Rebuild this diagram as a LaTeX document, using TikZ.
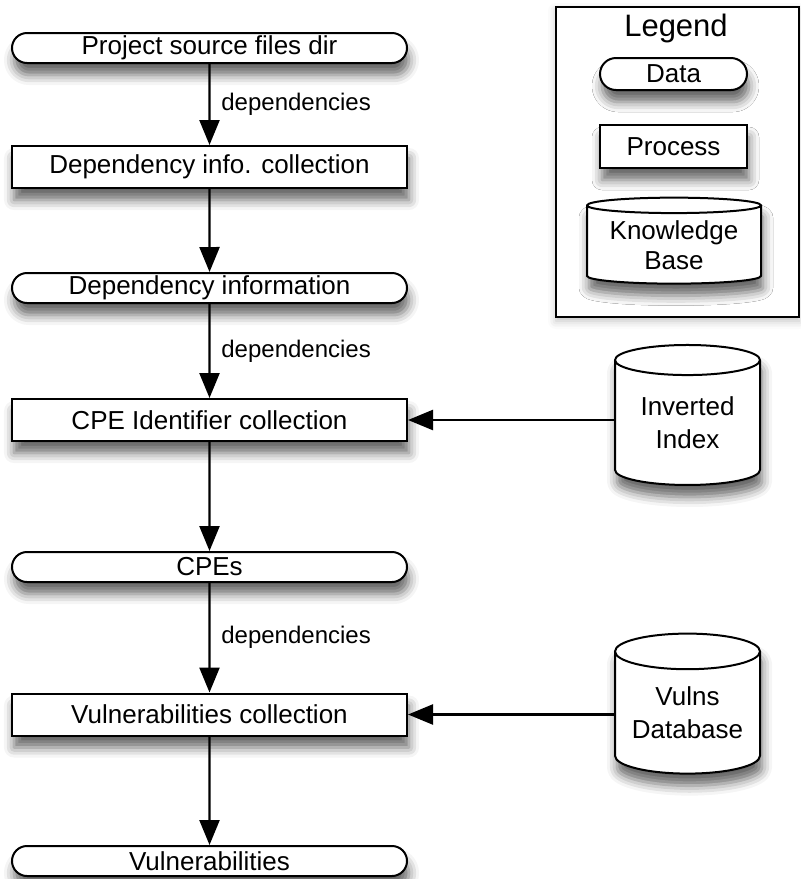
\documentclass[tikz,border=0pt]{standalone}
\usepackage{fontspec}
\setmainfont{Liberation Sans}
\usetikzlibrary{arrows.meta, shapes.misc, shapes.geometric, shadows.blur}
\tikzset{>={Triangle[length=12.5pt, width=10pt]}}
\tikzset{
    shade/.style = {blur shadow = {shadow xshift = 1pt, shadow yshift = -6pt, shadow blur radius = 5pt, shadow opacity = 60}},
    data/.style = {rounded rectangle, draw, fill = white, line width = 1pt, inner sep = 0pt,
        minimum width = 197.5pt, minimum height = 15pt, font = \fontsize{13}{15.5}\selectfont, shade},
    process/.style = {rectangle, draw, fill = white, line width = 1pt, inner sep = 0pt,
        minimum width = 197.5pt, minimum height = 21pt, font = \fontsize{13}{15.5}\selectfont, shade},
    kbase/.style = {cylinder, shape border rotate = 90, aspect = 0.32, draw, fill = white, line width = 1pt,
        inner sep = 0pt, align = center, font = \fontsize{13}{16.5}\selectfont, shade},
    flow/.style = {->, line width = 1.2pt},
    lbl/.style = {right, xshift = 2pt, font = \fontsize{12}{14}\selectfont},
}

\begin{document}
\begin{tikzpicture}[x = 0.5pt, y = -0.5pt]
    \useasboundingbox (0, 0) rectangle (800, 879);

    % legend
    \node[draw, line width = 1pt, fill = white, minimum width = 121.5pt, minimum height = 155pt,
        blur shadow = {shadow xshift = 0pt, shadow yshift = -2pt, shadow blur radius = 4pt, shadow opacity = 25}] (legend) at (677.5, 162) {};
    \node[font = \fontsize{15.5}{18}\selectfont] (legtitle) at (676, 28) {Legend};
    \node[data, minimum width = 73.5pt, minimum height = 16pt] (legdata) at (673.5, 74) {Data};
    \node[process, minimum width = 73.5pt, minimum height = 21.5pt] (legproc) at (673.5, 146.5) {Process};
    \node[kbase, aspect = 0.12, font = \fontsize{13}{15}\selectfont, minimum width = 87pt, minimum height = 43pt] (legkb) at (674, 245) {Knowledge\\Base};

    % main flow
    \node[data] (src) at (209.5, 48) {Project source files dir};
    \node[process] (depcol) at (209.5, 167) {Dependency info. collection};
    \node[data] (depinfo) at (209.5, 288) {Dependency information};
    \node[process] (cpecol) at (209.5, 420) {CPE Identifier collection};
    \node[data] (cpes) at (209.5, 567) {CPEs};
    \node[process] (vulncol) at (209.5, 714.5) {Vulnerabilities collection};
    \node[data] (vulns) at (209.5, 861) {Vulnerabilities};

    % knowledge bases
    \node[kbase, minimum width = 72.5pt, minimum height = 70pt] (invidx) at (687.5, 423) {Inverted\\Index};
    \node[kbase, minimum width = 72.5pt, minimum height = 70pt] (vulndb) at (687.5, 713) {Vulns\\Database};

    \draw[flow] (src) -- node[lbl] {dependencies} (depcol);
    \draw[flow] (depcol) -- (depinfo);
    \draw[flow] (depinfo) -- node[lbl] {dependencies} (cpecol);
    \draw[flow] (cpecol) -- (cpes);
    \draw[flow] (cpes) -- node[lbl] {dependencies} (vulncol);
    \draw[flow] (vulncol) -- (vulns);

    \draw[flow] (invidx.west |- cpecol) -- (cpecol);
    \draw[flow] (vulndb.west |- vulncol) -- (vulncol);
\end{tikzpicture}
\end{document}
